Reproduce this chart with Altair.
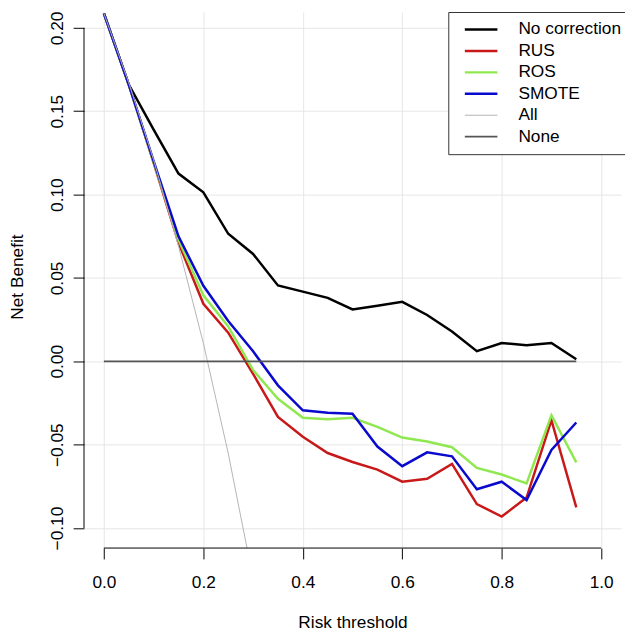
import altair as alt
import pandas as pd

# ---- data ----
thresholds = [0.00, 0.05, 0.10, 0.15, 0.20, 0.25, 0.30, 0.35, 0.40, 0.45,
              0.50, 0.55, 0.60, 0.65, 0.70, 0.75, 0.80, 0.85, 0.90, 0.95]
no_correction = [0.2087, 0.1660, 0.1390, 0.1126, 0.1014, 0.0765, 0.0644, 0.0455, 0.0418, 0.0381,
                 0.0311, 0.0333, 0.0357, 0.0278, 0.0179, 0.0061, 0.0110, 0.0097, 0.0110, 0.0012]
rus = [0.2087, 0.1660, 0.1190, 0.0710, 0.0345, 0.0172, -0.0075, -0.0333, -0.0452, -0.0550,
       -0.0604, -0.0649, -0.0722, -0.0704, -0.0615, -0.0856, -0.0931, -0.0817, -0.0353, -0.0876]
ros = [0.2087, 0.1660, 0.1195, 0.0730, 0.0396, 0.0209, -0.0052, -0.0225, -0.0339, -0.0347,
       -0.0339, -0.0393, -0.0457, -0.0481, -0.0515, -0.0639, -0.0679, -0.0732, -0.0323, -0.0606]
smote = [0.2087, 0.1660, 0.1200, 0.0750, 0.0453, 0.0242, 0.0060, -0.0144, -0.0294, -0.0308,
         -0.0314, -0.0511, -0.0629, -0.0546, -0.0570, -0.0767, -0.0722, -0.0832, -0.0531, -0.0367]
treat_all_x = [0.00, 0.05, 0.10, 0.15, 0.20, 0.25, 0.30]
treat_all = [0.2087, 0.1670, 0.1208, 0.0691, 0.0109, -0.0551, -0.1304]
treat_none = [0.0] * 20

series_names = ["No correction", "RUS", "ROS", "SMOTE", "All", "None"]
series_colors = ["#000000", "#C81818", "#90E850", "#0A0ACD", "#B4B4B4", "#555555"]
series_widths = [2.5, 2.5, 2.5, 2.5, 1.0, 1.8]

x_ticks = [0.0, 0.2, 0.4, 0.6, 0.8, 1.0]
y_ticks = [-0.10, -0.05, 0.00, 0.05, 0.10, 0.15, 0.20]

X_DOMAIN = [-0.04, 1.04]
Y_DOMAIN = [-0.112, 0.2095]

rows = []
for name, ys, xs in [("No correction", no_correction, thresholds),
                     ("RUS", rus, thresholds),
                     ("ROS", ros, thresholds),
                     ("SMOTE", smote, thresholds),
                     ("All", treat_all, treat_all_x),
                     ("None", treat_none, thresholds)]:
    for i, (xv, yv) in enumerate(zip(xs, ys)):
        rows.append({"series": name, "threshold": xv, "nb": yv, "idx": i})
df = pd.DataFrame(rows)

FONT = "Liberation Sans"
WIDTH_EXPR_LEGEND = "datum.value === 'All' ? 1 : (datum.value === 'None' ? 1.8 : 2.5)"

xscale = alt.Scale(domain=X_DOMAIN, nice=False, zero=False)
yscale = alt.Scale(domain=Y_DOMAIN, nice=False, zero=False)

xaxis = alt.Axis(values=x_ticks, format=".1f", domain=False, tickSize=11, tickColor="#000",
                 tickWidth=1, labelPadding=15, labelFontSize=17.5, labelColor="#000",
                 labelFont=FONT, grid=True, gridColor="#E6E6E6", gridWidth=1,
                 title="Risk threshold", titleFont=FONT, titleFontSize=17.5,
                 titleFontWeight="normal", titleColor="#000", titleX=272, titleY=80,
                 titleBaseline="alphabetic", titleAlign="center")
yaxis = alt.Axis(values=y_ticks, format=".2f", domain=False, tickSize=11, tickColor="#000",
                 tickWidth=1, labelPadding=11, labelFontSize=17.5, labelColor="#000",
                 labelFont=FONT, labelAngle=270, labelAlign="center",
                 labelBaseline="alphabetic", grid=True, gridColor="#E6E6E6", gridWidth=1,
                 title="Net Benefit", titleFont=FONT, titleFontSize=17.5,
                 titleFontWeight="normal", titleColor="#000", titleX=-62, titleY=268,
                 titleBaseline="alphabetic", titleAlign="center", titleAngle=270)

X = alt.X("threshold:Q", scale=xscale, axis=xaxis)
Y = alt.Y("nb:Q", scale=yscale, axis=yaxis)
COLOR = alt.Color("series:N", sort=series_names,
                  scale=alt.Scale(domain=series_names, range=series_colors),
                  legend=alt.Legend(title=None,
                                    symbolStrokeWidth=alt.ExprRef(WIDTH_EXPR_LEGEND)))

layers = []
for name, w in zip(series_names, series_widths):
    layers.append(
        alt.Chart(df).transform_filter(alt.datum.series == name)
        .mark_line(clip=True, strokeWidth=w)
        .encode(x=X, y=Y, order="idx:Q", color=COLOR)
    )

xline_df = pd.DataFrame({"threshold": [x_ticks[0]], "x2": [x_ticks[-1]], "nb": [Y_DOMAIN[0]]})
yline_df = pd.DataFrame({"threshold": [X_DOMAIN[0]], "nb": [y_ticks[0]], "y2": [y_ticks[-1]]})

x_axis_line = alt.Chart(xline_df).mark_rule(color="#000", strokeWidth=1).encode(
    x=X, x2="x2:Q", y=Y)
y_axis_line = alt.Chart(yline_df).mark_rule(color="#000", strokeWidth=1).encode(
    x=X, y=Y, y2="y2:Q")

chart = alt.layer(*layers, x_axis_line, y_axis_line).properties(
    width=544, height=543,
    autosize=alt.AutoSizeParams(type="none"),
    padding={"left": 77, "top": 0, "right": 4, "bottom": 84},
).configure_view(stroke=None).configure_legend(
    orient="none", legendX=369, legendY=0, padding=9, strokeColor="#333333",
    fillColor="#FFFFFF",
    symbolType="stroke", symbolSize=1089, symbolOffset=15.5, labelOffset=29, rowPadding=2.7,
    labelFont=FONT, labelFontSize=17.5, labelColor="#000",
    cornerRadius=0,
)

chart.save("out.html", embed_options={"renderer": "svg", "actions": False})
